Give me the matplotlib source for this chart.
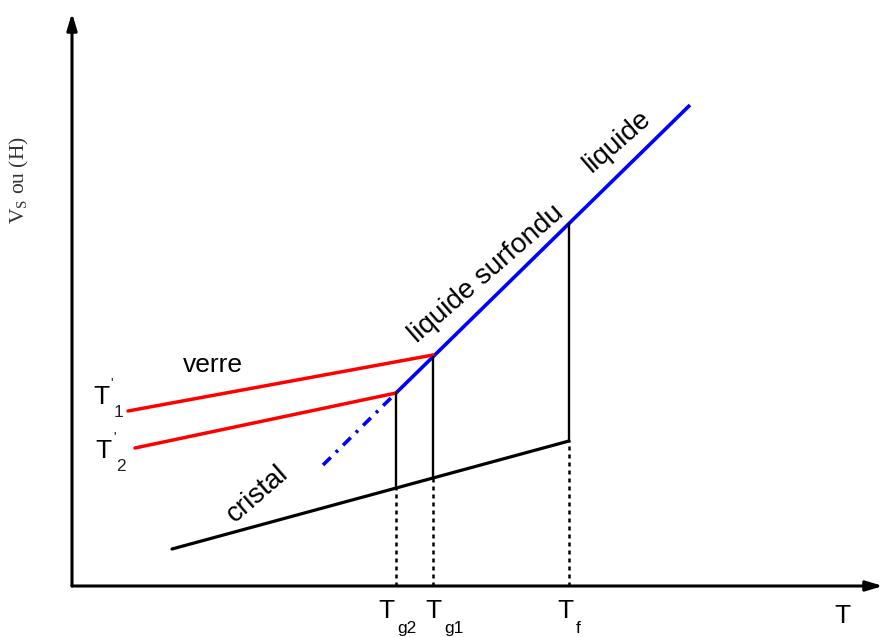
import matplotlib
matplotlib.use('Agg')
import matplotlib.pyplot as plt
import numpy as np

plt.rcParams['font.family'] = ['Liberation Sans', 'DejaVu Sans']
plt.rcParams['mathtext.fontset'] = 'custom'
plt.rcParams['mathtext.rm'] = 'Liberation Serif'

# schematic values, arbitrary units (T horizontally, V or H vertically)
T_cristal = [10.0, 49.7]
V_cristal = [3.7, 14.5]
T_liquide = [32.4, 61.8]
V_liquide = [19.3, 48.1]
T_extrap = [25.1, 32.4]
V_extrap = [12.1, 19.3]
T_verre1 = [5.6, 36.1]
V_verre1 = [17.5, 23.1]
T_verre2 = [6.3, 32.4]
V_verre2 = [13.8, 19.3]
T_marks = [32.4, 36.1, 49.7]
mark_subs = ['g2', 'g1', 'f']

X_MAX, Y_TOP = 81.1, 57.3

fig = plt.figure(figsize=(8.83, 6.37), dpi=100)
ax = fig.add_axes([72 / 883, 51 / 637, 811 / 883, 586 / 637])
ax.set_xlim(0, X_MAX)
ax.set_ylim(0, 58.6)
ax.axis('off')

# axes with arrows
arrow = dict(arrowstyle='-|>,head_length=0.5,head_width=0.15', lw=2.2,
             color='black', mutation_scale=20, shrinkA=0, shrinkB=0)
ax.annotate('', xy=(X_MAX, 0), xytext=(0, 0), arrowprops=arrow)
ax.annotate('', xy=(0, Y_TOP), xytext=(0, 0), arrowprops=arrow)

# curves
ax.plot(T_cristal, V_cristal, color='black', lw=2.3, solid_capstyle='round')
ax.plot(T_liquide, V_liquide, color='#0000ff', lw=2.6, solid_capstyle='butt')
ax.plot(T_extrap, V_extrap, color='#0000ff', lw=2.6,
        linestyle=(0, (3, 2, 0.8, 2)))
ax.plot(T_verre1, V_verre1, color='#ff0000', lw=2.5, solid_capstyle='round')
ax.plot(T_verre2, V_verre2, color='#ff0000', lw=2.5, solid_capstyle='round')

# vertical markers at Tg2, Tg1, Tf
for t in T_marks:
    v_low = np.interp(t, T_cristal, V_cristal)
    v_high = np.interp(t, T_liquide, V_liquide)
    ax.plot([t, t], [v_low, v_high], color='black', lw=1.7)
    ax.plot([t, t], [0, v_low], color='black', lw=1.8, linestyle=(0, (1.6, 1.6)))

# curve labels
ax.text(14.1, 22.1, 'verre', fontsize=19, ha='center', va='center')
ax.text(41.4, 31.2, 'liquide surfondu', fontsize=20, rotation=41,
        rotation_mode='anchor', ha='center', va='center')
ax.text(54.5, 44.4, 'liquide', fontsize=20, rotation=41,
        rotation_mode='anchor', ha='center', va='center')
ax.text(18.6, 9.2, 'cristal', fontsize=20, rotation=41,
        rotation_mode='anchor', ha='center', va='center')

# T'1 and T'2
for (tx, ty), (px, py), (sx, sy), sub in [((2.97, 18.87), (3.97, 20.33), (4.63, 17.33), '1'),
                                          ((3.13, 13.53), (4.23, 14.93), (4.87, 11.93), '2')]:
    ax.text(tx, ty, 'T', fontsize=19, ha='center', va='center')
    ax.text(px, py, "'", fontsize=9, ha='center', va='center')
    ax.text(sx, sy, sub, fontsize=12.5, ha='center', va='center', color='#222222')

# x axis labels
for t, sub, dx in zip(T_marks, mark_subs, [-0.98, 0.02, -0.32]):
    ax.text(t + dx, -2.48, 'T', fontsize=19, ha='center', va='center')
    ax.text(t + dx + (2.1 if len(sub) > 1 else 1.2), -4.25, sub, fontsize=12.5,
            ha='center', va='center')
ax.text(77.06, -3.0, 'T', fontsize=19, ha='center', va='center')

# y axis label
ax.text(-5.3, 40.6, r'V$_{\mathrm{S}}$ ou (H)', fontsize=15.5, rotation=90,
        ha='center', va='center', family='Liberation Serif', color='#333333')

fig.savefig('out.png', dpi=100)
